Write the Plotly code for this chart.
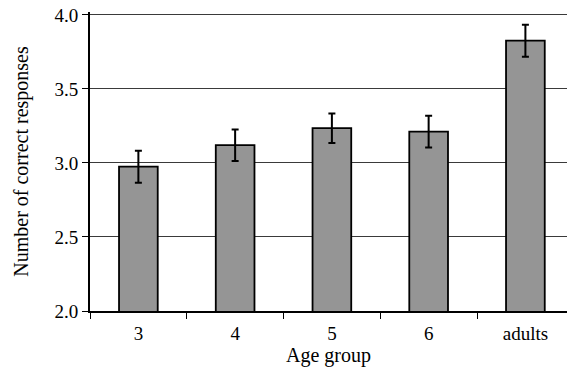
import plotly.graph_objects as go

categories = ["3", "4", "5", "6", "adults"]
values = [2.975, 3.12, 3.235, 3.212, 3.826]
errors = [0.108, 0.107, 0.1, 0.107, 0.108]
y_ticks = [2.0, 2.5, 3.0, 3.5, 4.0]
y_ticktext = ["2.0", "2.5", "3.0", "3.5", "4.0"]

font = "Liberation Serif, Times New Roman, serif"

fig = go.Figure()
fig.add_trace(go.Bar(
    x=categories, y=values, width=0.4,
    marker=dict(color="#959595", line=dict(color="black", width=1.8)),
    error_y=dict(type="data", array=errors, visible=True, color="black", thickness=2, width=3.5),
))

fig.update_layout(
    width=567, height=370,
    margin=dict(l=90, r=0, t=12, b=59, autoexpand=False),
    plot_bgcolor="white", paper_bgcolor="white",
    showlegend=False,
    font=dict(family=font, size=19, color="black"),
)
fig.update_xaxes(
    range=[-0.5, 4.43], automargin=False,
    tickson="boundaries", ticks="outside", ticklen=6, tickwidth=1, tickcolor="black",
    showline=True, linecolor="black", linewidth=1.5,
    showgrid=False, ticklabelstandoff=4,
    tickfont=dict(family=font, size=19),
    title=dict(text="Age group", font=dict(family=font, size=20), standoff=3),
)
fig.update_yaxes(
    range=[2.0, 4.02], tickvals=y_ticks, ticktext=y_ticktext, automargin=False,
    ticks="outside", ticklen=6, tickwidth=1, tickcolor="black",
    showline=True, linecolor="black", linewidth=2,
    showgrid=True, gridcolor="#3a3a3a", gridwidth=1,
    zeroline=False,
    tickfont=dict(family=font, size=19),
    title=dict(text="Number of correct responses", font=dict(family=font, size=20), standoff=20),
)
fig.write_html("out.html", config={"displayModeBar": False},
               post_script="document.body.style.margin='0';document.body.style.overflow='hidden';")
